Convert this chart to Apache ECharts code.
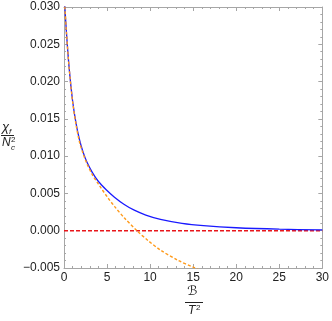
<!DOCTYPE html>
<html><head><meta charset="utf-8">
<script src="https://cdn.jsdelivr.net/npm/echarts@6/dist/echarts.min.js"></script>
<style>html,body{margin:0;padding:0;background:#fff}#c{width:332px;height:321px}</style>
</head><body><div id="c"></div>
<script>
const xTicks = [0, 5, 10, 15, 20, 25, 30];
const yTicks = [-0.005, 0, 0.005, 0.01, 0.015, 0.02, 0.025, 0.03];
const blueX = [0.02, 0.1, 0.3, 0.6, 1.0, 1.4, 1.8, 2.2, 2.7, 3.3, 4.0, 4.9, 5.86, 7.0, 8.16, 9.5, 11.2, 13.7, 16.2, 20, 25, 30];
const blueY = [0.0314, 0.0300, 0.0263, 0.0218, 0.0174, 0.0144, 0.0122, 0.0106, 0.0091, 0.0078, 0.0066, 0.0055, 0.0045, 0.00352, 0.00275, 0.0021, 0.00152, 0.00099, 0.00068, 0.0004, 0.000204, 0.000107];
const orangeX = [0.02, 0.1, 0.3, 0.6, 1.0, 1.4, 1.8, 2.2, 2.7, 3.3, 4.0, 4.33, 5.1, 5.86, 7.0, 8.47, 9.8, 11.2, 13.2, 15.06, 15.6];
const orangeY = [0.0314, 0.0300, 0.0263, 0.0218, 0.0173, 0.0142, 0.0119, 0.0104, 0.0089, 0.0075, 0.00625, 0.00568, 0.00441, 0.00327, 0.00173, 0.0, -0.00136, -0.00259, -0.00395, -0.00492, -0.00518];
const refX = [0, 30];
const refY = [0, 0];

const zip = (a, b) => a.map((v, i) => [v, b[i]]);
const chart = echarts.init(document.getElementById('c'));
const axisColor = '#a6a6a6';
const font = 'Liberation Sans, Arial, sans-serif';
const baseAxis = {
  axisLine: {show: true, onZero: false, lineStyle: {color: axisColor, width: 1}},
  axisTick: {show: true, inside: true, length: 4, lineStyle: {color: axisColor}},
  minorTick: {show: true, splitNumber: 5, length: 2, lineStyle: {color: axisColor}},
  splitLine: {show: false},
};
chart.setOption({
  animation: false,
  grid: {left: 64, right: 6, top: 7, bottom: 53},
  xAxis: [
    Object.assign({type: 'value', min: xTicks[0], max: xTicks[xTicks.length - 1], interval: 5, position: 'bottom',
      axisLabel: {show: true, color: '#222', fontSize: 12, fontFamily: font, margin: 4}}, baseAxis),
    Object.assign({type: 'value', min: xTicks[0], max: xTicks[xTicks.length - 1], interval: 5, position: 'top',
      axisLabel: {show: false}}, baseAxis)
  ],
  yAxis: [
    Object.assign({type: 'value', min: yTicks[0], max: yTicks[yTicks.length - 1], interval: 0.005, position: 'left',
      axisLabel: {show: true, color: '#222', fontSize: 12, fontFamily: font, margin: 4,
        formatter: v => (v < 0 ? '\u2212' : '') + Math.abs(v).toFixed(3)}}, baseAxis),
    Object.assign({type: 'value', min: yTicks[0], max: yTicks[yTicks.length - 1], interval: 0.005, position: 'right',
      axisLabel: {show: false}}, baseAxis)
  ],
  series: [
    {type: 'line', data: zip(refX, refY), showSymbol: false, symbol: 'none',
      lineStyle: {color: '#e8161b', width: 1.4, type: [4, 2]}},
    {type: 'line', data: zip(blueX, blueY), showSymbol: false, symbol: 'none', smooth: 0.3,
      lineStyle: {color: '#1a1aff', width: 1.3}},
    {type: 'line', data: zip(orangeX, orangeY), showSymbol: false, symbol: 'none', smooth: 0.3,
      lineStyle: {color: '#ff9a1a', width: 1.4, type: [3, 2]}}
  ],
  graphic: [
    {type: 'text', left: 2, top: 121, style: {text: 'χ', font: 'italic 13px ' + font, fill: '#222'}},
    {type: 'text', left: 9, top: 128, style: {text: 'f', font: 'italic 8px ' + font, fill: '#222'}},
    {type: 'line', shape: {x1: 1, y1: 135.5, x2: 14, y2: 135.5}, style: {stroke: '#222', lineWidth: 1}},
    {type: 'text', left: 2, top: 137, style: {text: 'N', font: 'italic 12px ' + font, fill: '#222'}},
    {type: 'text', left: 11, top: 136, style: {text: '2', font: '8px ' + font, fill: '#222'}},
    {type: 'text', left: 11, top: 144, style: {text: 'c', font: 'italic 8px ' + font, fill: '#222'}},
    {type: 'text', left: 187, top: 285, style: {text: 'ℬ', font: 'italic 13px DejaVu Sans, serif', fill: '#222'}},
    {type: 'line', shape: {x1: 185, y1: 302.5, x2: 203, y2: 302.5}, style: {stroke: '#222', lineWidth: 1}},
    {type: 'text', left: 188, top: 305, style: {text: 'T', font: 'italic 12px ' + font, fill: '#222'}},
    {type: 'text', left: 196, top: 304, style: {text: '2', font: '8px ' + font, fill: '#222'}}
  ]
});
</script></body></html>
